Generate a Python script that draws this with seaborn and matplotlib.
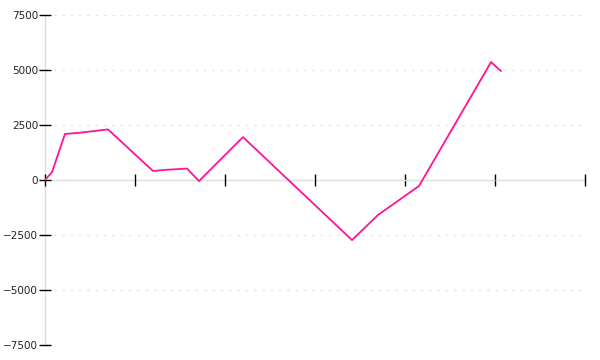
import matplotlib
matplotlib.use("Agg")
import matplotlib.pyplot as plt
import seaborn as sns
import pandas as pd

# data (x in tick units, y values)
x_vals = [0.0, 0.078, 0.222, 0.389, 0.556, 0.70, 1.20, 1.333, 1.578, 1.711,
          2.20, 3.411, 3.70, 4.156, 4.956, 5.067]
y_vals = [0, 360, 2090, 2150, 2230, 2300, 410, 460, 520, -50,
          1950, -2730, -1590, -270, 5360, 4950]
y_ticks = [-7500, -5000, -2500, 0, 2500, 5000, 7500]
x_ticks = [0, 1, 2, 3, 4, 5, 6]

df = pd.DataFrame({"x": x_vals, "y": y_vals})

sns.set_style("white")
plt.rcParams['font.family'] = ['DejaVu Sans']

fig = plt.figure(figsize=(6, 3.6), dpi=100)
ax = fig.add_axes([45/600, 15/360, 540/600, 330/360])

sns.lineplot(data=df, x="x", y="y", ax=ax, color="#FF1493", linewidth=1.3,
             sort=False, estimator=None, zorder=5)

ax.set_xlim(0, 6)
ax.set_ylim(-7500, 7500)
ax.set_yticks(y_ticks)
ax.set_yticklabels([f"{v}".replace("-", "\u2212") for v in y_ticks])
ax.set_xticks(x_ticks)
ax.set_xticklabels([])
ax.set_xlabel("")
ax.set_ylabel("")

for s in ["top", "right"]:
    ax.spines[s].set_visible(False)
ax.spines["bottom"].set_position(("data", 0))
ax.spines["bottom"].set_color("#dddddd")
ax.spines["left"].set_color("#dddddd")
ax.spines["bottom"].set_linewidth(1)
ax.spines["left"].set_linewidth(1)
ax.spines["bottom"].set_zorder(1)
ax.spines["left"].set_zorder(1)

ax.tick_params(axis="y", left=True, direction="inout", length=8, width=1,
               color="black", labelsize=7.5, labelcolor="#222222", pad=1)
ax.tick_params(axis="x", bottom=True, direction="inout", length=9, width=1,
               color="black")

ax.set_axisbelow(False)
ax.yaxis.grid(True, linestyle=(0, (2, 4)), color="#e6e6e6", linewidth=1, zorder=0)
ax.xaxis.grid(False)

fig.savefig("out.png", dpi=100)
